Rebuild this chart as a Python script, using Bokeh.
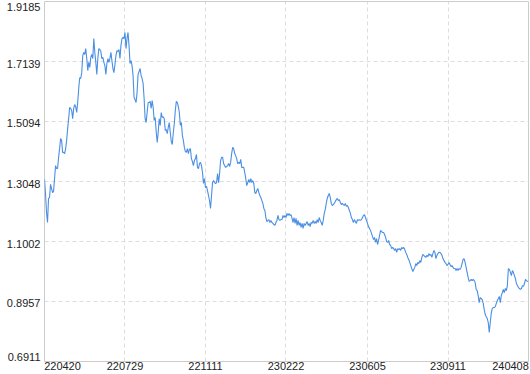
from bokeh.plotting import figure
from bokeh.models import Range1d, Grid, FixedTicker, LinearAxis, CustomJSTickFormatter
from bokeh.embed import file_html
from bokeh.resources import INLINE

# ---- data (in time order) ----
values_part1 = [
    1.312, 1.264, 1.199, 1.165, 1.247, 1.250, 1.295, 1.281, 1.267, 1.271,
    1.315, 1.359, 1.349, 1.349, 1.387, 1.417, 1.451, 1.445, 1.404, 1.404,
    1.400, 1.417, 1.445, 1.485, 1.519, 1.557, 1.554, 1.547, 1.519, 1.554,
    1.567, 1.560, 1.540, 1.574, 1.622, 1.659, 1.656, 1.676, 1.734, 1.745,
    1.738, 1.758, 1.724, 1.683, 1.711, 1.694, 1.728, 1.738, 1.724, 1.792,
    1.745, 1.711, 1.670, 1.724, 1.758, 1.755, 1.748, 1.724, 1.728, 1.711,
    1.700, 1.670, 1.707, 1.724, 1.711, 1.724, 1.745, 1.717, 1.690, 1.676,
    1.704, 1.734, 1.751, 1.748, 1.755, 1.724,
]
values_part2 = [
    1.769, 1.792, 1.796, 1.792, 1.813, 1.758, 1.792, 1.813, 1.769, 1.707,
    1.717, 1.700, 1.666, 1.591, 1.584, 1.574, 1.608, 1.670, 1.680, 1.690,
    1.666, 1.656, 1.639, 1.588, 1.519, 1.506, 1.540, 1.574, 1.574, 1.578,
    1.554, 1.581, 1.557, 1.513, 1.523, 1.475, 1.438, 1.472, 1.519, 1.496,
    1.540, 1.523, 1.526, 1.519, 1.479, 1.482, 1.468, 1.489, 1.506, 1.472,
    1.441, 1.431, 1.472, 1.502, 1.547, 1.578, 1.574, 1.560, 1.540, 1.496,
    1.506, 1.462, 1.445, 1.421, 1.407, 1.404, 1.417, 1.400, 1.414, 1.417,
    1.383, 1.373, 1.359, 1.376, 1.383, 1.397, 1.353, 1.349, 1.366, 1.370,
    1.359, 1.336,
]
values_part3 = [
    1.298, 1.315, 1.284, 1.288, 1.274, 1.257, 1.240, 1.213, 1.257, 1.301,
    1.308, 1.301, 1.298, 1.301, 1.332, 1.301, 1.332, 1.376, 1.387, 1.387,
    1.366, 1.359, 1.353, 1.356, 1.359, 1.366, 1.356, 1.370, 1.400, 1.421,
    1.417, 1.400, 1.393, 1.383, 1.366, 1.370, 1.366, 1.380, 1.353, 1.353,
    1.353, 1.336, 1.315, 1.291, 1.301, 1.312, 1.301, 1.315, 1.301, 1.308,
    1.298, 1.267, 1.264, 1.274, 1.281, 1.267, 1.257, 1.250, 1.240, 1.230,
    1.213, 1.206, 1.182, 1.168, 1.172, 1.175, 1.165, 1.172, 1.165, 1.162,
    1.158, 1.155, 1.165, 1.172, 1.189, 1.175, 1.172, 1.175, 1.175,
]
values_part4 = [
    1.189, 1.182, 1.189, 1.182, 1.196, 1.189, 1.196, 1.189, 1.192, 1.179,
    1.165, 1.182, 1.162, 1.179, 1.155, 1.172, 1.155, 1.165, 1.148, 1.162,
    1.145, 1.162, 1.155, 1.162, 1.168, 1.155, 1.162, 1.151, 1.165, 1.162,
    1.172, 1.162, 1.168, 1.162, 1.175, 1.165, 1.182, 1.172, 1.165, 1.155,
    1.172, 1.196, 1.209, 1.230, 1.247, 1.257, 1.264, 1.250, 1.230, 1.223,
    1.226, 1.230, 1.237, 1.243, 1.247, 1.240, 1.243, 1.233, 1.226, 1.230,
    1.226, 1.223, 1.230, 1.220, 1.223, 1.216, 1.206, 1.196, 1.182, 1.175,
    1.165, 1.175, 1.168, 1.162, 1.175, 1.172, 1.175, 1.172, 1.175, 1.182,
    1.189,
]
values_part5 = [
    1.192, 1.182, 1.172, 1.162, 1.151, 1.145, 1.138, 1.128, 1.117, 1.107,
    1.114, 1.097, 1.110, 1.090, 1.104, 1.121, 1.138, 1.134, 1.131, 1.131,
    1.124, 1.114, 1.100, 1.097, 1.104, 1.090, 1.087, 1.076, 1.080, 1.076,
    1.070, 1.076, 1.063, 1.076, 1.073, 1.076, 1.070, 1.080, 1.076, 1.080,
    1.073, 1.063, 1.056, 1.046, 1.039, 1.029, 1.018, 1.008, 0.998, 1.005,
    1.012, 1.025, 1.018, 1.029, 1.025, 1.035, 1.029, 1.046, 1.056, 1.053,
    1.049, 1.046, 1.053, 1.049, 1.059, 1.053, 1.056, 1.046, 1.059, 1.070,
    1.063, 1.042, 1.053, 1.059, 1.063, 1.063, 1.059, 1.053, 1.042, 1.035,
]
values_part6 = [
    1.029, 1.025, 1.018, 1.022, 1.029, 1.022, 1.015, 1.018, 1.012, 1.008,
    1.008, 1.001, 1.008, 1.001, 1.008, 1.005, 1.012, 1.025, 1.039, 1.042,
    1.029, 1.012, 0.995, 0.978, 0.964, 0.967, 0.971, 0.967, 0.971, 0.967,
    0.960, 0.937, 0.933, 0.916, 0.892, 0.909, 0.906, 0.902, 0.889, 0.868,
    0.851, 0.844, 0.838, 0.824, 0.790, 0.824, 0.855, 0.872, 0.875, 0.875,
    0.878, 0.889, 0.899, 0.906, 0.913, 0.892, 0.916, 0.926, 0.937, 0.926,
    0.940, 0.933, 0.950, 1.008, 1.005, 0.995, 0.984, 1.001, 0.995, 0.984,
    0.974, 0.957, 0.950, 0.943, 0.940, 0.937, 0.940, 0.950, 0.947, 0.957,
    0.971, 0.967, 0.964, 0.964,
]
values = values_part1 + values_part2 + values_part3 + values_part4 + values_part5 + values_part6

x_tick_labels = ["220420", "220729", "221111", "230222", "230605", "230911", "240408"]
y_ticks = [0.6911, 0.8957, 1.1002, 1.3048, 1.5094, 1.7139, 1.9185]
y_tick_labels = ["0.6911", "0.8957", "1.1002", "1.3048", "1.5094", "1.7139", "1.9185"]

# ---- layout ----
W, H = 530, 374
LEFT, RIGHT, TOP, BOTTOM = 44, 2, 1, 13
frame_w = W - LEFT - RIGHT
frame_h = H - TOP - BOTTOM

n = len(values)
idx = list(range(n))
x_tick_pos = [round(k * (n - 1) / (len(x_tick_labels) - 1)) for k in range(len(x_tick_labels))]

# label anchor positions: edge labels are pulled inside the frame, as in the reference
px_x = (n - 1) / frame_w
px_y = (y_ticks[-1] - y_ticks[0]) / frame_h
half_label = 18
x_label_pos = list(x_tick_pos)
x_label_pos[0] = x_tick_pos[0] + half_label * px_x
x_label_pos[-1] = x_tick_pos[-1] - half_label * px_x
y_label_pos = [t - 2 * px_y for t in y_ticks]
y_label_pos[0] = y_ticks[0] + 5 * px_y
y_label_pos[-1] = y_ticks[-1] - 5 * px_y

FONT = "Liberation Sans"
FSIZE = "11px"
TCOLOR = "#222222"

p = figure(width=W, height=H, output_backend="svg", toolbar_location=None, tools="",
           x_axis_type=None, y_axis_type=None,
           x_range=Range1d(0, n - 1), y_range=Range1d(y_ticks[0], y_ticks[-1]),
           min_border_left=LEFT, min_border_right=RIGHT, min_border_top=TOP,
           min_border_bottom=BOTTOM)
p.background_fill_color = "white"
p.border_fill_color = "white"
p.outline_line_color = "#cccccc"
p.outline_line_width = 1

p.add_layout(Grid(dimension=0, ticker=FixedTicker(ticks=x_tick_pos),
                  grid_line_color="#dddddd", grid_line_dash="4 3"))
p.add_layout(Grid(dimension=1, ticker=FixedTicker(ticks=y_ticks),
                  grid_line_color="#dddddd", grid_line_dash="4 3"))

xaxis = LinearAxis(ticker=FixedTicker(ticks=x_label_pos),
                   formatter=CustomJSTickFormatter(args=dict(labels=x_tick_labels),
                                                   code="return labels[index]"))
yaxis = LinearAxis(ticker=FixedTicker(ticks=y_label_pos),
                   formatter=CustomJSTickFormatter(args=dict(labels=y_tick_labels),
                                                   code="return labels[index]"))
for ax, standoff in ((xaxis, 0), (yaxis, 4)):
    ax.axis_line_color = None
    ax.major_tick_line_color = None
    ax.minor_tick_line_color = None
    ax.major_tick_out = 0
    ax.major_tick_in = 0
    ax.minor_tick_out = 0
    ax.major_label_standoff = standoff
    ax.major_label_text_font = FONT
    ax.major_label_text_font_size = FSIZE
    ax.major_label_text_color = TCOLOR
p.add_layout(xaxis, "below")
p.add_layout(yaxis, "left")

p.line(idx, values, line_color="#4a8fe4", line_width=1.1)

open("out.html", "w").write(file_html(p, INLINE))
